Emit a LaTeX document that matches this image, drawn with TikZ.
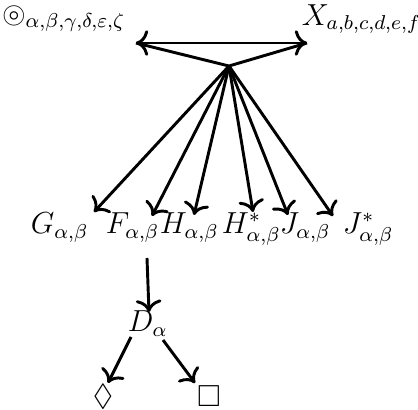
\RequirePackage{fix-cm}
\documentclass[tikz,border=0pt]{standalone}
\usepackage{amssymb}
\usetikzlibrary{arrows.meta}
\DeclareMathSizes{13}{13}{8.6}{6.5}
\tikzset{
  lbl/.style={inner sep=0pt, outer sep=0pt, font=\fontsize{13}{15}\selectfont},
  edge/.style={line width=1.25pt, -{To[scale=1.2]}},
  plain/.style={line width=1.25pt}
}
\begin{document}
\begin{tikzpicture}[x=0.4274pt,y=-0.4274pt]
\useasboundingbox (0,0) rectangle (418,410);
% labels
\node[lbl, anchor=base west] (circ) at (2,23) {$\circledcirc_{\alpha,\beta,\gamma,\delta,\varepsilon,\zeta}$};
\node[lbl, anchor=base west] (X) at (302,25) {$X_{a,b,c,d,e,f}$};
\node[lbl, anchor=base west] (G) at (31,234) {$G_{\alpha,\beta}$};
\node[lbl, anchor=base west] (F) at (106,234) {$F_{\alpha,\beta}$};
\node[lbl, anchor=base west] (H) at (160,234) {$H_{\alpha,\beta}$};
\node[lbl, anchor=base west] (Hs) at (222,234) {$H^*_{\alpha,\beta}$};
\node[lbl, anchor=base west] (J) at (280,234) {$J_{\alpha,\beta}$};
\node[lbl, anchor=base west] (Js) at (343,234) {$J^*_{\alpha,\beta}$};
\node[lbl, anchor=base west] (D) at (128,332) {$D_{\alpha}$};
\node[lbl] (dia) at (103,397) {$\lozenge$};
\node[lbl] (box) at (209,396.5) {$\square$};
% connector end points
\coordinate (apex) at (229,66);
\coordinate (l) at (136,43);
\coordinate (r) at (307,43);
\coordinate (gt) at (94,212);
\coordinate (ft) at (152,216);
\coordinate (ht) at (194,215);
\coordinate (hst) at (253,212);
\coordinate (jt) at (288,215);
\coordinate (jst) at (333,216);
\coordinate (fs) at (147,258);
\coordinate (dt) at (149,312);
\coordinate (ds1) at (131,337);
\coordinate (diat) at (108,383);
\coordinate (ds2) at (163,340);
\coordinate (boxt) at (195,383);
% connectors
\draw[edge, {To[scale=1.2]}-{To[scale=1.2]}] (l) -- (r);
\draw[plain] (l) -- (apex) -- (r);
\foreach \t in {gt,ft,ht,hst,jt,jst}{\draw[edge] (apex) -- (\t);}
\draw[edge] (fs) -- (dt);
\draw[edge] (ds1) -- (diat);
\draw[edge] (ds2) -- (boxt);
\end{tikzpicture}
\end{document}
